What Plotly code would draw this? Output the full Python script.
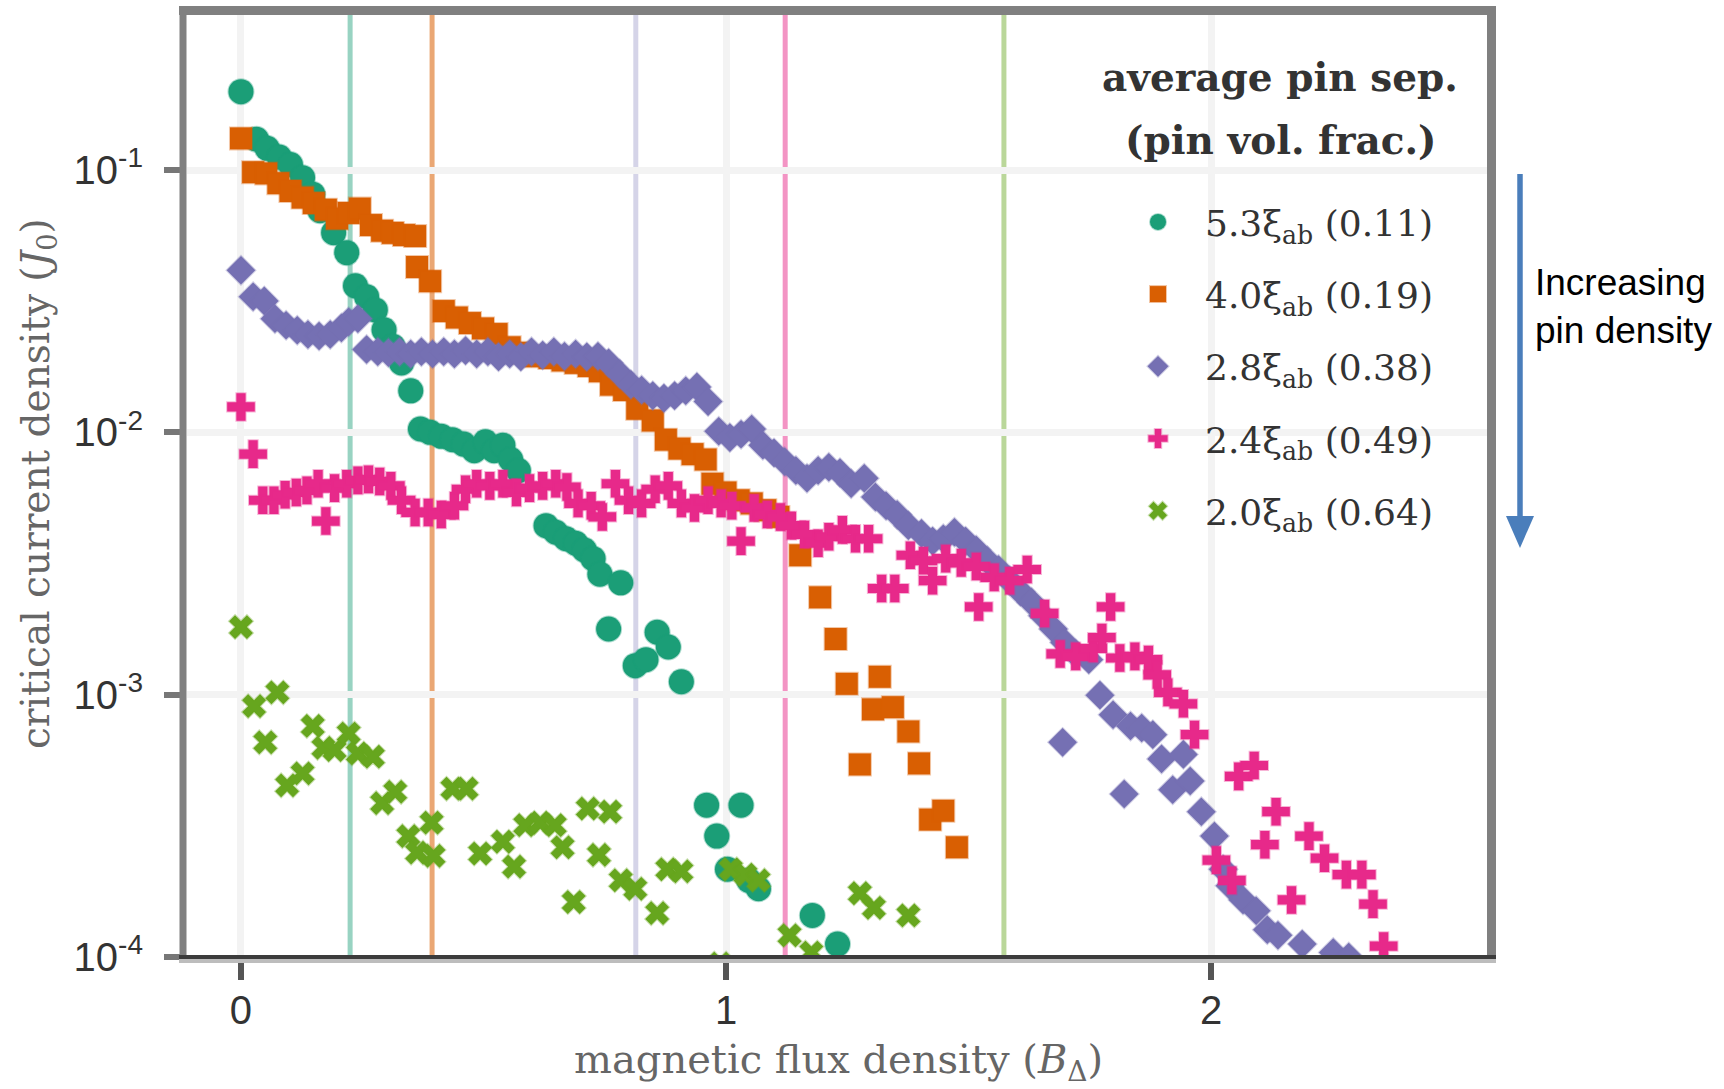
import plotly.graph_objects as go

# ---------------- data ----------------
teal_B = [0, 0.032, 0.054, 0.079, 0.102, 0.127, 0.148, 0.163, 0.191, 0.218,
          0.236, 0.259, 0.277, 0.295, 0.313, 0.331, 0.350, 0.370, 0.390, 0.413,
          0.436, 0.459, 0.481, 0.504, 0.522, 0.540, 0.556, 0.572, 0.629, 0.649,
          0.670, 0.690, 0.708, 0.726, 0.740, 0.783, 0.758, 0.813, 0.835, 0.858,
          0.881, 0.908, 0.960, 0.981, 1.003, 1.031, 1.047, 1.067, 1.178, 1.230]
teal_J = [0.199, 0.131, 0.121, 0.112, 0.105, 0.0935, 0.0809, 0.0700, 0.0577, 0.0484,
          0.0362, 0.0329, 0.0293, 0.0246, 0.0213, 0.0184, 0.0144, 0.0103, 0.0100, 0.00966,
          0.00938, 0.00902, 0.00851, 0.00920, 0.00851, 0.00893, 0.00788, 0.00715, 0.00441, 0.00416,
          0.00393, 0.00378, 0.00356, 0.00330, 0.00288, 0.00267, 0.00178, 0.00129, 0.00136, 0.00173,
          0.00152, 0.00112, 0.000379, 0.000289, 0.000216, 0.000379, 0.000196, 0.000182, 0.000144, 0.000112]

orange_B = [0, 0.025, 0.052, 0.077, 0.102, 0.127, 0.150, 0.175, 0.198, 0.222,
            0.245, 0.268, 0.291, 0.313, 0.336, 0.359, 0.363, 0.390, 0.418, 0.445,
            0.472, 0.499, 0.527, 0.554, 0.581, 0.608, 0.636, 0.663, 0.690, 0.717,
            0.740, 0.763, 0.790, 0.817, 0.849, 0.876, 0.904, 0.931, 0.958, 0.972,
            0.999, 1.026, 1.053, 1.081, 1.108, 1.153, 1.194, 1.226, 1.249, 1.276,
            1.317, 1.303, 1.344, 1.376, 1.398, 1.421, 1.448, 1.476]
orange_J = [0.132, 0.0981, 0.0971, 0.0891, 0.0832, 0.0785, 0.0748, 0.0706, 0.0653, 0.0686,
            0.0713, 0.0617, 0.0587, 0.0576, 0.0565, 0.0560, 0.0427, 0.0377, 0.0290, 0.0274,
            0.0261, 0.0249, 0.0237, 0.0211, 0.0201, 0.0195, 0.0192, 0.0188, 0.0184, 0.0179,
            0.0171, 0.0152, 0.0145, 0.0123, 0.0111, 0.00938, 0.00867, 0.00826, 0.00788, 0.00637,
            0.00590, 0.00551, 0.00536, 0.00505, 0.00476, 0.00340, 0.00235, 0.00163, 0.00110, 0.000542,
            0.00117, 0.000879, 0.000896, 0.000724, 0.000547, 0.000334, 0.000361, 0.000262]

purple_B = [0, 0.025, 0.048, 0.070, 0.093, 0.116, 0.138, 0.161, 0.184, 0.207,
            0.222, 0.241, 0.259, 0.282, 0.304, 0.327, 0.350, 0.372, 0.395, 0.418,
            0.440, 0.463, 0.486, 0.509, 0.531, 0.554, 0.577, 0.599, 0.622, 0.645,
            0.667, 0.690, 0.713, 0.736, 0.758, 0.781, 0.804, 0.826, 0.849, 0.872,
            0.894, 0.917, 0.940, 0.963, 0.985, 1.008, 1.031, 1.053, 1.076, 1.099,
            1.121, 1.144, 1.167, 1.190, 1.212, 1.235, 1.258, 1.285, 1.308, 1.330,
            1.353, 1.376, 1.403, 1.426, 1.448, 1.471, 1.494, 1.516, 1.539, 1.562,
            1.585, 1.607, 1.630, 1.653, 1.675, 1.698, 1.721, 1.694, 1.748, 1.771,
            1.798, 1.821, 1.834, 1.857, 1.880, 1.898, 1.921, 1.943, 1.957, 1.980,
            2.007, 2.025, 2.039, 2.066, 2.093, 2.116, 2.138, 2.188, 2.252, 2.284]
purple_J = [0.0415, 0.0329, 0.0317, 0.0271, 0.0256, 0.0245, 0.0236, 0.0233, 0.0236, 0.0250,
            0.0264, 0.0271, 0.0207, 0.0203, 0.0201, 0.0203, 0.0199, 0.0203, 0.0199, 0.0203,
            0.0199, 0.0205, 0.0199, 0.0203, 0.0194, 0.0199, 0.0194, 0.0203, 0.0197, 0.0203,
            0.0195, 0.0199, 0.0194, 0.0195, 0.0184, 0.0167, 0.0152, 0.0145, 0.0138, 0.0135,
            0.0138, 0.0144, 0.0149, 0.0131, 0.0101, 0.00955, 0.00984, 0.0103, 0.00893, 0.00835,
            0.00773, 0.00715, 0.00668, 0.00715, 0.00736, 0.00702, 0.00637, 0.00668, 0.00567, 0.00525,
            0.00486, 0.00441, 0.00412, 0.00385, 0.00393, 0.00416, 0.00385, 0.00356, 0.00324, 0.00300,
            0.00272, 0.00247, 0.00225, 0.00200, 0.00178, 0.00158, 0.00143, 0.000658, 0.00136, 0.000996,
            0.000838, 0.000418, 0.000760, 0.000746, 0.000704, 0.000569, 0.000434, 0.000592, 0.000469, 0.000358,
            0.000289, 0.000216, 0.000187, 0.000165, 0.000150, 0.000127, 0.000121, 0.000112, 0.000104, 0.000100]

pink_B = [0, 0.025, 0.045, 0.068, 0.091, 0.114, 0.136, 0.159, 0.175, 0.193,
          0.218, 0.241, 0.263, 0.286, 0.309, 0.331, 0.359, 0.386, 0.413, 0.440,
          0.463, 0.486, 0.513, 0.540, 0.568, 0.595, 0.622, 0.649, 0.672, 0.695,
          0.722, 0.745, 0.772, 0.799, 0.826, 0.854, 0.881, 0.908, 0.935, 0.963,
          0.990, 1.012, 1.031, 1.058, 1.085, 1.112, 1.135, 1.162, 1.190, 1.212,
          1.240, 1.267, 1.294, 1.321, 1.348, 1.380, 1.407, 1.426, 1.453, 1.485,
          1.516, 1.521, 1.553, 1.585, 1.621, 1.657, 1.689, 1.721, 1.757, 1.775,
          1.793, 1.812, 1.843, 1.871, 1.889, 1.911, 1.943, 1.966, 2.011, 2.043,
          2.057, 2.089, 2.111, 2.134, 2.166, 2.202, 2.234, 2.279, 2.311, 2.334,
          2.356]
pink_J = [0.0125, 0.00826, 0.00551, 0.00551, 0.00578, 0.00590, 0.00601, 0.00637, 0.00459, 0.00613,
          0.00637, 0.00656, 0.00662, 0.00650, 0.00625, 0.00551, 0.00495, 0.00495, 0.00486, 0.00525,
          0.00607, 0.00637, 0.00625, 0.00637, 0.00590, 0.00613, 0.00625, 0.00637, 0.00619, 0.00536,
          0.00525, 0.00476, 0.00637, 0.00551, 0.00536, 0.00607, 0.00625, 0.00536, 0.00515, 0.00551,
          0.00536, 0.00525, 0.00385, 0.00515, 0.00486, 0.00476, 0.00441, 0.00408, 0.00378, 0.00400,
          0.00425, 0.00393, 0.00393, 0.00254, 0.00254, 0.00340, 0.00324, 0.00272, 0.00330, 0.00318,
          0.00308, 0.00216, 0.00280, 0.00272, 0.00300, 0.00204, 0.00143, 0.00140, 0.00150, 0.00165,
          0.00216, 0.00138, 0.00140, 0.00136, 0.00119, 0.00102, 0.000923, 0.000704, 0.000234, 0.000196,
          0.000488, 0.000537, 0.000268, 0.000358, 0.000165, 0.000289, 0.000238, 0.000206, 0.000206, 0.000159,
          0.000110]

green_B = [0, 0.027, 0.050, 0.075, 0.095, 0.127, 0.148, 0.170, 0.193, 0.222,
           0.241, 0.272, 0.291, 0.318, 0.345, 0.363, 0.393, 0.397, 0.436, 0.465,
           0.493, 0.540, 0.563, 0.586, 0.617, 0.647, 0.663, 0.686, 0.715, 0.738,
           0.761, 0.783, 0.813, 0.858, 0.879, 0.908, 0.988, 1.010, 1.040, 1.067,
           1.131, 1.176, 1.276, 1.305, 1.376]
green_J = [0.00181, 0.000904, 0.000658, 0.00102, 0.000451, 0.000501, 0.000760, 0.000627, 0.000615, 0.000711,
           0.000597, 0.000580, 0.000386, 0.000426, 0.000289, 0.000250, 0.000325, 0.000243, 0.000438, 0.000438,
           0.000248, 0.000275, 0.000221, 0.000318, 0.000325, 0.000318, 0.000262, 0.000162, 0.000368, 0.000245,
           0.000358, 0.000196, 0.000182, 0.000147, 0.000216, 0.000212, 0.0000944, 0.000216, 0.000206, 0.000196,
           0.000121, 0.000104, 0.000175, 0.000154, 0.000144]

series_names = ["5.3ξ<sub>ab</sub> (0.11)", "4.0ξ<sub>ab</sub> (0.19)", "2.8ξ<sub>ab</sub> (0.38)",
                "2.4ξ<sub>ab</sub> (0.49)", "2.0ξ<sub>ab</sub> (0.64)"]
threshold_B = [0.225, 0.394, 0.814, 1.122, 1.573]   # vertical marker lines
y_tickvals = [1e-4, 1e-3, 1e-2, 1e-1]
y_ticktext = ["10<sup>-4</sup>", "10<sup>-3</sup>", "10<sup>-2</sup>", "10<sup>-1</sup>"]
x_tickvals = [0, 1, 2]
x_ticktext = ["0", "1", "2"]

# ---------------- styling / layout ----------------
W, H = 1724, 1089
L, R, T, BOT = 187, 1487, 15, 957
PW, PH = R - L, BOT - T


def px(X):
    return (X - L) / PW


def py(Y):
    return 1 - (Y - T) / PH


colors = ["#1b9e77", "#d95f02", "#7570b3", "#e7298a", "#66a61e"]
edges = ["rgba(27,158,119,0.35)", "rgba(217,95,2,0.35)", "rgba(117,112,179,0.35)",
         "rgba(231,41,138,0.35)", "rgba(102,166,30,0.35)"]
symbols = ["circle", "square", "diamond", "cross", "x"]
sizes = [25, 22, 22, 23, 21]
vline_colors = ["rgba(27,158,119,0.45)", "rgba(217,95,2,0.55)", "rgba(117,112,179,0.3)",
                "rgba(231,41,138,0.5)", "rgba(102,166,30,0.45)"]

all_B = [teal_B, orange_B, purple_B, pink_B, green_B]
all_J = [teal_J, orange_J, purple_J, pink_J, green_J]

fig = go.Figure()
for xs, ys, name, c, e, s, sz in zip(all_B, all_J, series_names, colors, edges, symbols, sizes):
    fig.add_trace(go.Scatter(
        x=xs, y=ys, mode="markers", name=name, legendgroup=name,
        marker=dict(symbol=s, size=sz, color=c, line=dict(width=2, color=e)),
    ))

for b, c in zip(threshold_B, vline_colors):
    fig.add_shape(type="line", xref="x", yref="paper", x0=b, x1=b, y0=0, y1=1,
                  line=dict(color=c, width=5), layer="below")

# frame
frame = [
    (179, 10.5, 1496, 10.5, "#808080", 9),     # top
    (183, 6, 183, 957, "#808080", 7),          # left
    (1491.5, 6, 1491.5, 963, "#808080", 9),    # right
    (179, 957, 1496, 957, "#3c3c3c", 4),       # bottom dark
    (179, 961, 1496, 961, "#bdbdbd", 4),       # bottom light
]
for x0, y0, x1, y1, c, w in frame:
    fig.add_shape(type="line", xref="paper", yref="paper", x0=px(x0), y0=py(y0),
                  x1=px(x1), y1=py(y1), line=dict(color=c, width=w), layer="above")

# arrow
blue = "#4a7ebb"
fig.add_shape(type="line", xref="paper", yref="paper", x0=px(1520), x1=px(1520),
              y0=py(174), y1=py(520), line=dict(color=blue, width=5.5), layer="above")
fig.add_shape(type="path", xref="paper", yref="paper",
              path=f"M {px(1506)} {py(516)} L {px(1534)} {py(516)} L {px(1520)} {py(548)} Z",
              fillcolor=blue, line=dict(width=0), layer="above")

serif = "DejaVu Serif"
annotations = [
    dict(text="<b>average pin sep.</b>", x=px(1280), y=py(77), font=dict(family=serif, size=39, color="#333")),
    dict(text="<b>(pin vol. frac.)</b>", x=px(1281), y=py(140), font=dict(family=serif, size=39, color="#333")),
    dict(text="Increasing<br>pin density", x=px(1533), y=py(307), xanchor="left", align="left",
         font=dict(family="Liberation Sans", size=37, color="#000")),
    dict(text="magnetic flux density (<i>B</i><sub>Δ</sub>)", x=px(838), y=py(1062),
         font=dict(family=serif, size=40, color="#666")),
    dict(text="critical current density (<i>J</i><sub>0</sub>)", x=px(38), y=py(484), textangle=-90,
         font=dict(family=serif, size=39, color="#666")),
]
for a in annotations:
    a.setdefault("xanchor", "center")
    a.update(xref="paper", yref="paper", yanchor="middle", showarrow=False)
    fig.add_annotation(**a)

fig.update_layout(
    width=W, height=H,
    margin=dict(l=L, r=W - R, t=T, b=H - BOT, pad=0),
    plot_bgcolor="white", paper_bgcolor="white",
    showlegend=True,
    legend=dict(x=px(1111), y=py(192), xanchor="left", yanchor="top",
                font=dict(family=serif, size=36, color="#333"),
                bgcolor="rgba(0,0,0,0)", tracegroupgap=22.4, itemwidth=84),
    xaxis=dict(range=[-0.1113, 2.569], tickvals=x_tickvals, ticktext=x_ticktext,
               showgrid=True, gridcolor="#f3f3f3", gridwidth=7, zeroline=False, showline=False,
               ticks="outside", ticklen=22, tickwidth=6, tickcolor="#555", ticklabelstandoff=-4,
               tickfont=dict(family="Liberation Sans", size=40, color="#333")),
    yaxis=dict(type="log", range=[-4, -0.409], tickvals=y_tickvals, ticktext=y_ticktext,
               showgrid=True, gridcolor="#f3f3f3", gridwidth=7, zeroline=False, showline=False,
               ticks="outside", ticklen=22, tickwidth=6, tickcolor="#777", ticklabelstandoff=13,
               tickfont=dict(family="Liberation Sans", size=40, color="#333")),
)

fig.write_html("out.html")
